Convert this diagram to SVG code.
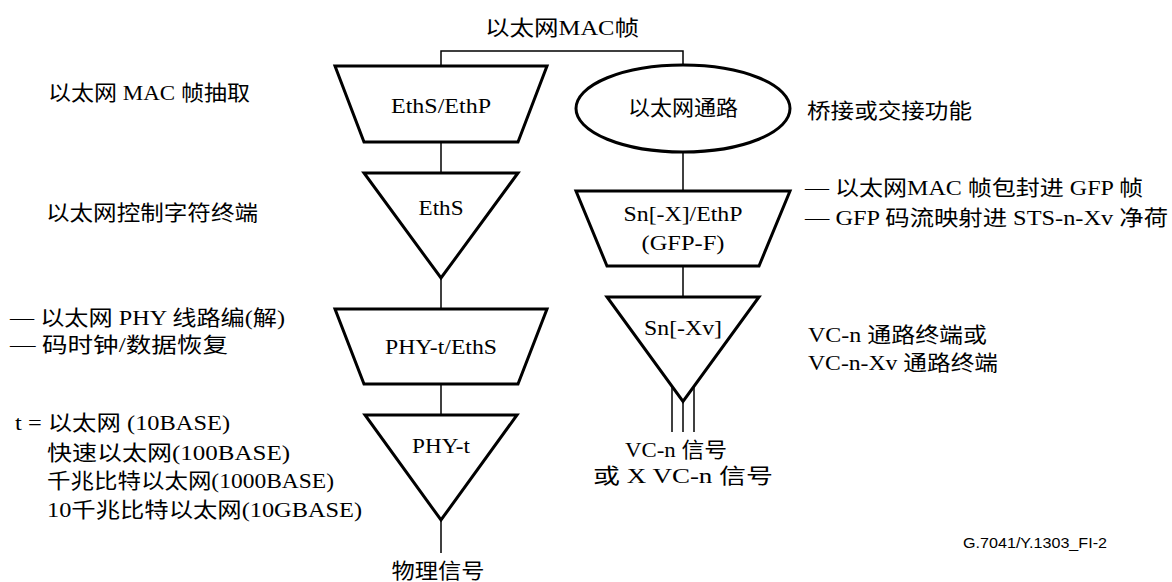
<svg xmlns="http://www.w3.org/2000/svg" width="1172" height="582" viewBox="0 0 1172 582">
<style>
.shape{fill:#fff;stroke:#000;stroke-width:3;stroke-linejoin:miter}
.conn{fill:none;stroke:#000;stroke-width:1.5}
text{font-family:"Liberation Serif","Noto Sans CJK SC",serif;font-size:21px;fill:#000}
.c{text-anchor:middle}
.id{font-family:"Liberation Sans",Arial,sans-serif;font-size:14px}
</style>
<rect width="1172" height="582" fill="#fff"/>
<g id="connectors">
<polyline class="conn" points="441,66 441,51 683,51 683,65"/>
<line class="conn" x1="441" y1="142" x2="441" y2="173"/>
<line class="conn" x1="683" y1="152" x2="683" y2="191"/>
<line class="conn" x1="441" y1="278" x2="441" y2="309"/>
<line class="conn" x1="683" y1="266" x2="683" y2="297"/>
<line class="conn" x1="441" y1="384" x2="441" y2="415"/>
<line class="conn" x1="441" y1="520" x2="441" y2="553"/>
<line class="conn" x1="672" y1="387" x2="672" y2="432"/>
<line class="conn" x1="683" y1="401" x2="683" y2="432"/>
<line class="conn" x1="694" y1="387" x2="694" y2="432"/>
</g>
<text class="c" x="562" y="35" textLength="154" lengthAdjust="spacingAndGlyphs">以太网MAC帧</text>
<g id="n-eths-ethp">
<polygon class="shape" points="335,66 547,66 518,142 364,142"/>
<text class="c" x="441" y="113" textLength="100" lengthAdjust="spacingAndGlyphs">EthS/EthP</text>
</g>
<g id="n-eth-path">
<ellipse class="shape" cx="683" cy="108.5" rx="107" ry="43.5"/>
<text class="c" x="683" y="115" textLength="110" lengthAdjust="spacingAndGlyphs">以太网通路</text>
</g>
<g id="n-eths">
<polygon class="shape" points="364,173 518,173 441,278"/>
<text class="c" x="441" y="215" textLength="45" lengthAdjust="spacingAndGlyphs">EthS</text>
</g>
<g id="n-sn-ethp">
<polygon class="shape" points="576,191 790,191 759,266 607,266"/>
<text class="c" x="683" y="221" textLength="119" lengthAdjust="spacingAndGlyphs">Sn[-X]/EthP</text>
<text class="c" x="683" y="250" textLength="83" lengthAdjust="spacingAndGlyphs">(GFP-F)</text>
</g>
<g id="n-phy-eths">
<polygon class="shape" points="335,309 547,309 518,384 364,384"/>
<text class="c" x="441" y="354" textLength="112" lengthAdjust="spacingAndGlyphs">PHY-t/EthS</text>
</g>
<g id="n-snxv">
<polygon class="shape" points="607,297 759,297 683,401.5"/>
<text class="c" x="683" y="335" textLength="78" lengthAdjust="spacingAndGlyphs">Sn[-Xv]</text>
</g>
<g id="n-phy-t">
<polygon class="shape" points="365,415 517,415 441,520"/>
<text class="c" x="441" y="453" textLength="58" lengthAdjust="spacingAndGlyphs">PHY-t</text>
</g>
<text class="c" x="438" y="578" textLength="93" lengthAdjust="spacingAndGlyphs">物理信号</text>
<text class="c" x="676" y="457" textLength="102" lengthAdjust="spacingAndGlyphs">VC-n 信号</text>
<text class="c" x="683" y="483" textLength="180" lengthAdjust="spacingAndGlyphs">或 X VC-n 信号</text>
<text x="48" y="100" textLength="202" lengthAdjust="spacingAndGlyphs">以太网 MAC 帧抽取</text>
<text x="46" y="220" textLength="212" lengthAdjust="spacingAndGlyphs">以太网控制字符终端</text>
<text x="10" y="325" textLength="275" lengthAdjust="spacingAndGlyphs">— 以太网 PHY 线路编(解)</text>
<text x="10" y="352" textLength="218" lengthAdjust="spacingAndGlyphs">— 码时钟/数据恢复</text>
<text x="15" y="430" textLength="215" lengthAdjust="spacingAndGlyphs">t = 以太网 (10BASE)</text>
<text x="47" y="460" textLength="243" lengthAdjust="spacingAndGlyphs">快速以太网(100BASE)</text>
<text x="47" y="488" textLength="287" lengthAdjust="spacingAndGlyphs">千兆比特以太网(1000BASE)</text>
<text x="47" y="517" textLength="315" lengthAdjust="spacingAndGlyphs">10千兆比特以太网(10GBASE)</text>
<text x="807" y="118" textLength="165" lengthAdjust="spacingAndGlyphs">桥接或交接功能</text>
<text x="805" y="195" textLength="338" lengthAdjust="spacingAndGlyphs">— 以太网MAC 帧包封进 GFP 帧</text>
<text x="805" y="225" textLength="363" lengthAdjust="spacingAndGlyphs">— GFP 码流映射进 STS-n-Xv 净荷</text>
<text x="808" y="342" textLength="179" lengthAdjust="spacingAndGlyphs">VC-n 通路终端或</text>
<text x="808" y="370" textLength="190" lengthAdjust="spacingAndGlyphs">VC-n-Xv 通路终端</text>
<text class="id" x="963" y="548" textLength="144" lengthAdjust="spacingAndGlyphs">G.7041/Y.1303_FI-2</text>
</svg>
